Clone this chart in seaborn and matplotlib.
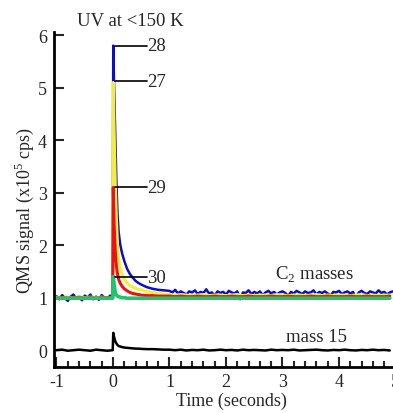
import matplotlib
matplotlib.use("Agg")
import matplotlib.pyplot as plt
import seaborn as sns
from matplotlib.ticker import MultipleLocator

sns.set_style("white")
plt.rcParams['font.family'] = ['Liberation Serif', 'DejaVu Serif']
plt.rcParams['mathtext.fontset'] = 'custom'
plt.rcParams['mathtext.rm'] = 'Liberation Serif'

# time axis (seconds) for the smoother traces
time = [-1.0, -0.9, -0.8, -0.7, -0.6, -0.5, -0.4, -0.3, -0.2, -0.1, -0.005,
        0.005, 0.02, 0.04, 0.06, 0.08, 0.1, 0.13, 0.16, 0.2, 0.25, 0.3, 0.35, 0.4, 0.45, 0.5, 0.6, 0.7, 0.8, 0.9,
        1.0, 1.1, 1.2, 1.3, 1.4, 1.5, 1.6, 1.7, 1.8, 1.9,
        2.0, 2.1, 2.2, 2.3, 2.4, 2.5, 2.6, 2.7, 2.8, 2.9,
        3.0, 3.1, 3.2, 3.3, 3.4, 3.5, 3.6, 3.7, 3.8, 3.9,
        4.0, 4.1, 4.2, 4.3, 4.4, 4.5, 4.6, 4.7, 4.8, 4.9]

# time axis (seconds) for the noisy mass 28 trace
time28 = [-1.0, -0.95, -0.9, -0.85, -0.8, -0.75, -0.7, -0.65, -0.6, -0.55,
          -0.5, -0.45, -0.4, -0.35, -0.3, -0.25, -0.2, -0.15, -0.1, -0.05, -0.005,
          0.005, 0.02, 0.04, 0.06, 0.08, 0.1, 0.13, 0.16, 0.2, 0.25, 0.3, 0.35, 0.4, 0.45, 0.5, 0.6, 0.7, 0.8, 0.9,
          1.0, 1.05, 1.1, 1.15, 1.2, 1.25, 1.3, 1.35, 1.4, 1.45,
          1.5, 1.55, 1.6, 1.65, 1.7, 1.75, 1.8, 1.85, 1.9, 1.95,
          2.0, 2.05, 2.1, 2.15, 2.2, 2.25, 2.3, 2.35, 2.4, 2.45,
          2.5, 2.55, 2.6, 2.65, 2.7, 2.75, 2.8, 2.85, 2.9, 2.95,
          3.0, 3.05, 3.1, 3.15, 3.2, 3.25, 3.3, 3.35, 3.4, 3.45,
          3.5, 3.55, 3.6, 3.65, 3.7, 3.75, 3.8, 3.85, 3.9, 3.95,
          4.0, 4.05, 4.1, 4.15, 4.2, 4.25, 4.3, 4.35, 4.4, 4.45,
          4.5, 4.55, 4.6, 4.65, 4.7, 4.75, 4.8, 4.85, 4.9, 4.95]

# mass 28 (blue)
mass28 = [1.03, 0.97, 1.05, 0.99, 0.94, 1.02, 1.06, 0.98, 1.03, 0.95,
          1.04, 1.0, 1.06, 0.97, 1.02, 0.96, 1.05, 1.0, 0.98, 1.04, 1.0,
          5.8, 5.0, 4.1, 3.2, 2.6, 2.25, 2.0, 1.85, 1.7, 1.55, 1.45, 1.38, 1.32, 1.28, 1.25, 1.2, 1.17, 1.15, 1.14,
          1.13, 1.10, 1.15, 1.08, 1.12, 1.09, 1.06, 1.12, 1.10, 1.14,
          1.07, 1.11, 1.09, 1.16, 1.08, 1.10, 1.04, 1.12, 1.09, 1.11,
          1.06, 1.13, 1.10, 1.08, 1.12, 0.97, 1.10, 1.09, 1.14, 1.07,
          1.11, 1.08, 1.12, 1.05, 1.10, 1.13, 1.08, 1.11, 1.06, 1.10,
          1.12, 1.09, 1.03, 1.11, 1.08, 1.13, 1.10, 1.07, 1.12, 1.09,
          1.10, 1.14, 1.06, 1.11, 1.09, 1.12, 1.08, 1.04, 1.11, 1.10,
          1.13, 1.07, 1.10, 1.12, 1.08, 1.11, 0.98, 1.10, 1.13, 1.09,
          1.07, 1.12, 1.10, 1.08, 1.14, 1.09, 1.11, 1.06, 1.10, 1.12]

# mass 27 (yellow)
mass27 = [1.01, 1.0, 1.01, 1.0, 1.02, 1.0, 1.01, 1.0, 1.01, 1.0, 1.0,
          5.1, 4.2, 3.2, 2.5, 2.0, 1.75, 1.55, 1.45, 1.35, 1.28, 1.23, 1.2, 1.18, 1.16, 1.15, 1.12, 1.1, 1.08, 1.07,
          1.06, 1.05, 1.06, 1.05, 1.04, 1.05, 1.06, 1.04, 1.05, 1.05,
          1.04, 1.05, 1.06, 1.04, 1.05, 1.04, 1.05, 1.05, 1.04, 1.06,
          1.05, 1.04, 1.05, 1.05, 1.04, 1.05, 1.06, 1.04, 1.05, 1.04,
          1.05, 1.05, 1.04, 1.05, 1.06, 1.04, 1.05, 1.04, 1.05, 1.05]

# mass 29 (red)
mass29 = [0.99, 1.0, 0.99, 1.0, 1.0, 0.99, 1.0, 0.99, 1.0, 1.0, 1.0,
          3.1, 2.4, 1.9, 1.6, 1.45, 1.35, 1.27, 1.22, 1.17, 1.13, 1.1, 1.08, 1.07, 1.06, 1.05, 1.04, 1.04, 1.03, 1.03,
          1.03, 1.02, 1.03, 1.02, 1.02, 1.03, 1.02, 1.02, 1.03, 1.02,
          1.02, 1.03, 1.02, 1.02, 1.03, 1.02, 1.02, 1.02, 1.03, 1.02,
          1.02, 1.03, 1.02, 1.02, 1.02, 1.03, 1.02, 1.02, 1.03, 1.02,
          1.02, 1.02, 1.03, 1.02, 1.02, 1.03, 1.02, 1.02, 1.02, 1.03]

# mass 30 (green)
mass30 = [0.99, 0.99, 0.99, 0.99, 0.99, 0.99, 0.99, 0.99, 0.99, 0.99, 0.99,
          1.4, 1.25, 1.1, 1.05, 1.03, 1.02, 1.01, 1.0, 1.0, 0.99, 0.99, 0.99, 0.99, 0.99, 0.99, 0.99, 0.99, 0.99, 0.99,
          0.99, 0.99, 0.99, 0.99, 0.99, 0.99, 0.99, 0.99, 0.99, 0.99,
          0.99, 0.99, 0.99, 0.99, 0.99, 0.99, 0.99, 0.99, 0.99, 0.99,
          0.99, 0.99, 0.99, 0.99, 0.99, 0.99, 0.99, 0.99, 0.99, 0.99,
          0.99, 0.99, 0.99, 0.99, 0.99, 0.99, 0.99, 0.99, 0.99, 0.99]

# mass 15 (black)
mass15 = [0.0, 0.01, -0.01, 0.0, 0.01, 0.0, -0.01, 0.01, 0.0, -0.01, 0.0,
          0.33, 0.25, 0.17, 0.13, 0.1, 0.08, 0.07, 0.06, 0.05, 0.045, 0.04, 0.035, 0.03, 0.03, 0.025, 0.02, 0.02, 0.015, 0.01,
          0.01, 0.0, 0.01, -0.005, 0.005, 0.0, 0.01, -0.005, 0.0, 0.01,
          0.0, 0.005, -0.005, 0.01, 0.0, 0.005, 0.0, -0.005, 0.01, 0.0,
          0.005, 0.0, 0.01, -0.005, 0.0, 0.005, 0.01, 0.0, -0.005, 0.005,
          0.0, 0.01, 0.0, -0.005, 0.005, 0.0, 0.01, 0.0, 0.005, -0.005]

peak_labels = ["28", "27", "29", "30"]
peak_values = [5.8, 5.12, 3.1, 1.39]

fig = plt.figure(figsize=(3.93, 4.14), dpi=100)
ax = fig.add_axes([54/393, 46/414, 346/393, 335/414])

series = [(time28, mass28, '#0d0dcc', 1.8), (time, mass27, '#f4ee3a', 2.2), (time, mass29, '#ee1111', 2.2),
          (time, mass30, '#1ec46e', 2.6), (time, mass15, '#000000', 1.8)]
for tt, vals, col, lw in series:
    sns.lineplot(x=tt, y=vals, color=col, lw=lw, ax=ax, estimator=None, sort=False)

for lab, v in zip(peak_labels, peak_values):
    ax.plot([0.03, 0.6], [v, v], color='black', lw=1.2)
    ax.text(0.6, v, lab, fontsize=13.5, va='center', ha='left')

ax.text(-0.64, 6.27, "UV at <150 K", fontsize=13.5, va='center', ha='left')
ax.text(3.56, 1.45, "C$_2$ masses", fontsize=13.5, va='center', ha='center')
ax.text(3.61, 0.27, "mass 15", fontsize=13.5, va='center', ha='center')

ax.set_xlim(-1.044, 5.08)
ax.set_ylim(-0.32, 6.06)
ax.xaxis.set_major_locator(MultipleLocator(1))
ax.xaxis.set_minor_locator(MultipleLocator(0.2))
ax.yaxis.set_major_locator(MultipleLocator(1))
ax.tick_params(axis='x', which='major', direction='in', length=7, width=1.5, labelsize=13, pad=4, bottom=True)
ax.tick_params(axis='x', which='minor', direction='in', length=4, width=1.5, bottom=True)
ax.tick_params(axis='y', which='major', direction='in', length=7, width=1.5, labelsize=13, pad=5, left=True)
for s in ['top', 'right']:
    ax.spines[s].set_visible(False)
for s in ['left', 'bottom']:
    ax.spines[s].set_linewidth(2)
    ax.spines[s].set_color('black')

ax.set_xlabel("Time (seconds)", fontsize=13)
ax.xaxis.set_label_coords(0.514, -0.10)
ax.xaxis.label.set_va('center')
ax.set_ylabel("QMS signal (x10$^5$ cps)", fontsize=13)
ax.yaxis.set_label_coords(-0.087, 0.47)
ax.yaxis.label.set_va('center')
ax.set_xticks([-1, 0, 1, 2, 3, 4, 5])
ax.set_xticklabels(['-1', '0', '1', '2', '3', '4', '5'])

fig.savefig("out.png", dpi=100)
